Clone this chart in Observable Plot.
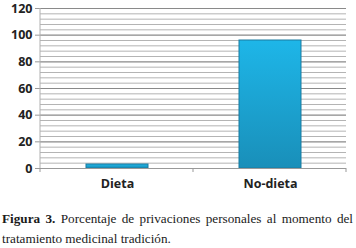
<!DOCTYPE html>
<html><head><meta charset="utf-8">
<script src="https://cdn.jsdelivr.net/npm/d3@7"></script>
<script src="https://cdn.jsdelivr.net/npm/@observablehq/plot@0.6"></script>
<style>
body{margin:0;background:#fff;}
#cap{width:351px;margin:9px 0 0 2px;font-family:"Liberation Serif",serif;font-size:13.2px;line-height:19.5px;color:#1a1a1a;}
#cap .l1{text-align:justify;text-align-last:justify;white-space:nowrap;}
</style></head><body>
<div id="chart"></div>
<div id="cap"><div class="l1"><b>Figura 3.</b><span> Porcentaje de privaciones personales al momento del</span></div><div>tratamiento medicinal tradición.</div></div>
<script>
const categories = ["Dieta", "No-dieta"];
const values = [3, 96];
const yTicks = [0, 20, 40, 60, 80, 100, 120];
const minorTicks = d3.range(0, 121, 4).filter(v => v % 20 !== 0);

const data = categories.map((c, i) => ({cat: c, val: values[i]}));

const plot = Plot.plot({
  width: 356, height: 200,
  marginTop: 8, marginBottom: 32, marginLeft: 40, marginRight: 10,
  style: {fontFamily: "Open Sans, sans-serif", fontSize: "12.5px", fontWeight: "bold", color: "#222"},
  x: {domain: categories, paddingInner: 0.595, paddingOuter: 0.2975, label: null},
  y: {domain: [0, 120], label: null},
  marks: [
    Plot.ruleY(minorTicks, {stroke: "#b4b4b4", strokeWidth: 1}),
    Plot.ruleY(yTicks.filter(v => v > 0), {stroke: "#8a8a8a", strokeWidth: 1.2}),
    Plot.barY(data, {x: "cat", y: "val", fill: "url(#barGrad)", stroke: "#1a7aa0", strokeWidth: 1}),
    Plot.ruleY([0], {stroke: "#999"}),
    Plot.axisY({ticks: yTicks, tickSize: 5, tickPadding: 3, stroke: "#999"}),
    Plot.axisX({tickSize: 0, tickPadding: 11})
  ]
});

const svg = d3.select(plot);
const defs = svg.insert("defs", ":first-child");
const g = defs.append("linearGradient").attr("id", "barGrad").attr("x1", 0).attr("y1", 0).attr("x2", 0).attr("y2", 1);
g.append("stop").attr("offset", "0%").attr("stop-color", "#1eb6e8");
g.append("stop").attr("offset", "100%").attr("stop-color", "#198fb9");

document.getElementById("chart").appendChild(plot);

const ys = plot.scale("y");
const y0 = ys.apply(0), yTop = ys.apply(120);
const left = 40, right = 346;
const mid = (left + right) / 2;
svg.append("line").attr("x1", left).attr("x2", left).attr("y1", yTop).attr("y2", y0).attr("stroke", "#b0b0b0");
[left, mid, right].forEach(x => svg.append("line").attr("x1", x).attr("x2", x).attr("y1", y0).attr("y2", y0 + 4).attr("stroke", "#999"));
</script>
</body></html>
